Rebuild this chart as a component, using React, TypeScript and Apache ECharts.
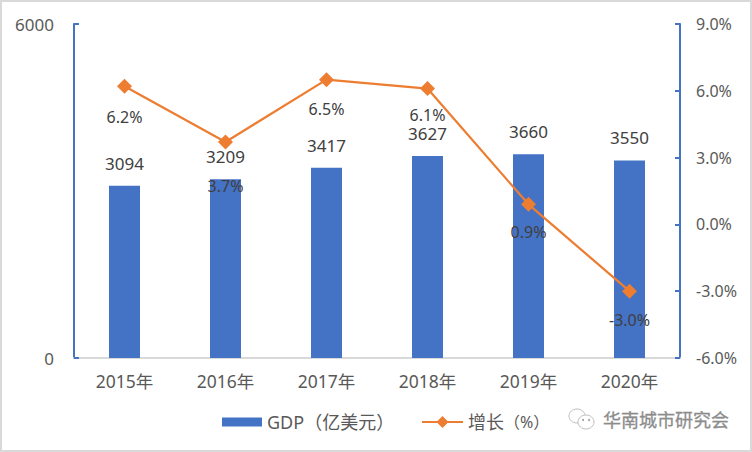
import React, { useEffect, useRef } from "react";
import * as echarts from "echarts";

const categories = ["2015年", "2016年", "2017年", "2018年", "2019年", "2020年"];
const gdp = [3094, 3209, 3417, 3627, 3660, 3550];
const growth = [6.2, 3.7, 6.5, 6.1, 0.9, -3.0];
const gdpName = "GDP（亿美元）";
const growthName = "增长（%）";
const watermark = "华南城市研究会";

const FONT = '"Noto Sans", "Noto Sans CJK SC", sans-serif';
const BLUE = "#4472C4";
const ORANGE = "#ED7D31";
const growthLabelGap = [15, 28, 14, 11, 12, 13];

export default function App() {
  const ref = useRef<HTMLDivElement>(null);
  useEffect(() => {
    document.body.style.margin = "0";
    const chart = echarts.init(ref.current!, null, { renderer: "svg" });
    const icon = { fill: "#fff", stroke: "#bdbdbd", lineWidth: 1 };
    chart.setOption({
      animation: false,
      backgroundColor: "#fff",
      textStyle: { fontFamily: FONT },
      grid: { left: 74, right: 72, top: 24, bottom: 94 },
      legend: [
        {
          left: 217,
          top: 408,
          itemGap: 0,
          itemWidth: 40,
          itemHeight: 9,
          textStyle: { color: "#595959", fontSize: 18, fontFamily: FONT },
          data: [{ name: gdpName, icon: "rect" }],
        },
        {
          left: 416,
          top: 408,
          itemGap: 0,
          itemWidth: 41,
          itemHeight: 15,
          textStyle: {
            color: "#595959",
            fontSize: 18,
            fontFamily: FONT,
            rich: { s: { color: "#595959", fontSize: 16, fontFamily: FONT } },
          },
          formatter: () => "增长{s|（%）}",
          data: [{ name: growthName }],
        },
      ],
      xAxis: {
        type: "category",
        data: categories,
        axisTick: { show: false },
        axisLine: { lineStyle: { color: "#D9D9D9", width: 2 } },
        axisLabel: { color: "#595959", fontSize: 17.5, margin: 14 },
      },
      yAxis: [
        {
          type: "value",
          min: 0,
          max: 6000,
          interval: 6000,
          splitLine: { show: false },
          axisLine: { show: true, lineStyle: { color: BLUE, width: 2 } },
          axisTick: { show: true, inside: true, length: 5, lineStyle: { color: BLUE, width: 2 } },
          axisLabel: { color: "#595959", fontSize: 17, margin: 20, formatter: (v: number) => String(v) },
        },
        {
          type: "value",
          position: "right",
          min: -6,
          max: 9,
          interval: 3,
          splitLine: { show: false },
          axisLine: { show: true, lineStyle: { color: BLUE, width: 2 } },
          axisTick: { show: true, inside: true, length: 5, lineStyle: { color: BLUE, width: 2 } },
          axisLabel: {
            color: "#595959",
            fontSize: 16,
            margin: 16,
            formatter: (v: number) => v.toFixed(1) + "%",
          },
        },
      ],
      series: [
        {
          name: gdpName,
          type: "bar",
          data: gdp,
          barWidth: 31,
          itemStyle: { color: BLUE },
          label: { show: true, position: "top", distance: 14, color: "#404040", fontSize: 17 },
        },
        {
          name: growthName,
          type: "line",
          yAxisIndex: 1,
          data: growth.map((value, i) => ({ value, label: { distance: growthLabelGap[i] } })),
          symbol: "diamond",
          symbolSize: 15,
          itemStyle: { color: ORANGE },
          lineStyle: { color: ORANGE, width: 2.25 },
          label: {
            show: true,
            position: "bottom",
            color: "#404040",
            fontSize: 16,
            formatter: (p: any) => p.value.toFixed(1) + "%",
          },
          z: 5,
        },
      ],
      graphic: [
        { type: "rect", silent: true, shape: { x: 1, y: 1, width: 750, height: 450 }, style: { fill: "none", stroke: "#D9D9D9", lineWidth: 2 } },
        { type: "ellipse", shape: { cx: 577, cy: 416, rx: 8, ry: 7 }, style: icon },
        { type: "ellipse", shape: { cx: 586, cy: 422, rx: 8, ry: 7 }, style: icon },
        { type: "circle", shape: { cx: 583, cy: 420, r: 1 }, style: { fill: "#999" } },
        { type: "circle", shape: { cx: 589, cy: 420, r: 1 }, style: { fill: "#999" } },
        {
          type: "text",
          x: 603,
          y: 410,
          style: { text: watermark, fill: "#8c8c8c", stroke: "#8c8c8c", lineWidth: 0.3, font: '400 18px "Noto Sans CJK SC"' },
        },
      ],
    });
    return () => chart.dispose();
  }, []);
  return <div ref={ref} style={{ width: 752, height: 452 }} />;
}
